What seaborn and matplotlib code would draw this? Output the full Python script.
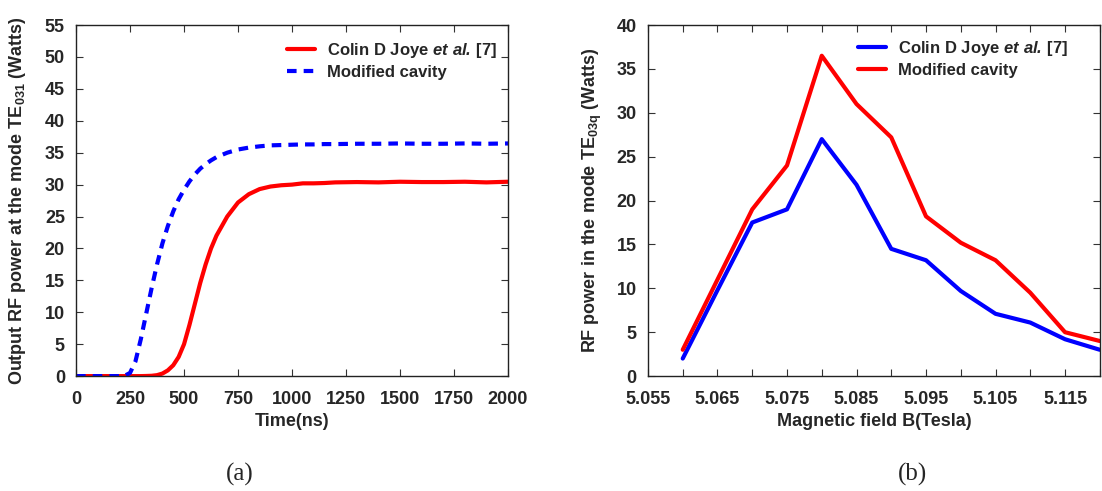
import numpy as np
import pandas as pd
import matplotlib
matplotlib.use("Agg")
import matplotlib.pyplot as plt
import seaborn as sns
from matplotlib.ticker import MultipleLocator, FixedLocator

# (a) time response
time_ns = [0, 100, 200, 225, 250, 275, 300, 325, 350, 375, 400, 425, 450, 475, 500,
           525, 550, 575, 600, 625, 650, 700, 750, 800, 850, 900, 950, 1000, 1050,
           1100, 1150, 1200, 1300, 1400, 1500, 1600, 1700, 1800, 1900, 2000]
joye_power_t = [0, 0, 0, 0, 0, 0, 0, 0.02, 0.05, 0.15, 0.4, 0.9, 1.7, 3.0, 5.0,
                8.0, 11.3, 14.6, 17.5, 20.0, 22.0, 25.0, 27.2, 28.5, 29.3, 29.7, 29.9, 30.0, 30.2,
                30.2, 30.25, 30.35, 30.4, 30.35, 30.45, 30.4, 30.4, 30.45, 30.35, 30.45]
modified_power_t = [0, 0, 0, 0.05, 0.5, 2.3, 5.8, 9.8, 13.8, 17.5, 20.8, 23.5, 25.8, 27.7, 29.2,
                    30.5, 31.6, 32.5, 33.2, 33.8, 34.3, 35.0, 35.5, 35.8, 36.0, 36.15, 36.2, 36.25, 36.3,
                    36.3, 36.35, 36.35, 36.4, 36.4, 36.45, 36.4, 36.4, 36.45, 36.4, 36.45]

# (b) magnetic field sweep
field_T = [5.060, 5.065, 5.070, 5.075, 5.080, 5.085, 5.090, 5.095, 5.100, 5.105, 5.110, 5.115, 5.120]
joye_power_b = [2.0, 9.8, 17.5, 19.0, 27.0, 21.8, 14.5, 13.2, 9.7, 7.1, 6.1, 4.2, 3.0]
modified_power_b = [3.0, 11.0, 19.0, 24.0, 36.5, 31.0, 27.2, 18.2, 15.2, 13.2, 9.5, 5.0, 4.0]

joye_label = r"Colin D Joye $\mathbfit{et\ al.}\,$[7]"
mod_label = "Modified cavity"

sns.set_theme(style="ticks")
plt.rcParams["font.family"] = ["Liberation Sans", "DejaVu Sans"]
plt.rcParams["font.weight"] = "bold"
plt.rcParams["mathtext.fontset"] = "custom"
plt.rcParams["mathtext.rm"] = "Liberation Sans:bold"
plt.rcParams["mathtext.bf"] = "Liberation Sans:bold"
plt.rcParams["mathtext.it"] = "Liberation Sans:italic:bold"
plt.rcParams["mathtext.bfit"] = "Liberation Sans:italic:bold"

fs = 13
lw = 3.0
fig = plt.figure(figsize=(11.02, 4.91), dpi=100)
ax1 = fig.add_axes([0.069, 0.234, 0.392, 0.715])
ax2 = fig.add_axes([0.588, 0.234, 0.410, 0.715])

df_t = pd.DataFrame({"t": time_ns, "joye": joye_power_t, "mod": modified_power_t})
sns.lineplot(data=df_t, x="t", y="joye", ax=ax1, color="#ff0000", lw=lw, label=joye_label)
sns.lineplot(data=df_t, x="t", y="mod", ax=ax1, color="#0000ff", lw=lw,
             linestyle=(0, (2.3, 1.7)), label=mod_label)
ax1.set_xlim(0, 2000)
ax1.set_ylim(0, 55)
ax1.xaxis.set_major_locator(MultipleLocator(250))
ax1.yaxis.set_major_locator(MultipleLocator(5))
ax1.set_xlabel("Time(ns)", fontsize=fs, fontweight="bold", labelpad=3)
ax1.set_ylabel(r"Output RF power at the mode TE$_{\mathrm{031}}$ (Watts)", fontsize=fs,
               fontweight="bold", labelpad=12)

df_b = pd.DataFrame({"B": field_T, "joye": joye_power_b, "mod": modified_power_b})
sns.lineplot(data=df_b, x="B", y="joye", ax=ax2, color="#0000ff", lw=lw, label=joye_label)
sns.lineplot(data=df_b, x="B", y="mod", ax=ax2, color="#ff0000", lw=lw, label=mod_label)
ax2.set_xlim(5.055, 5.12)
ax2.set_ylim(0, 40)
ticks_b = [5.055 + 0.005 * i for i in range(14)]
ax2.xaxis.set_major_locator(FixedLocator(ticks_b))
ax2.set_xticklabels([f"{v:.3f}" if i % 2 == 0 else "" for i, v in enumerate(ticks_b)])
ax2.yaxis.set_major_locator(MultipleLocator(5))
ax2.set_xlabel("Magnetic field B(Tesla)", fontsize=fs, fontweight="bold", labelpad=3)
ax2.set_ylabel(r"RF power in the mode TE$_{\mathrm{03q}}$ (Watts)", fontsize=fs,
               fontweight="bold", labelpad=9)

legend_anchor = {ax1: (0.488, 0.954), ax2: (0.465, 0.960)}
for ax in (ax1, ax2):
    ax.tick_params(direction="in", top=True, right=True, length=5, width=0.8,
                   labelsize=fs, color="#333333")
    ax.tick_params(axis="x", pad=11)
    ax.tick_params(axis="y", pad=8)
    for lab in ax.get_xticklabels() + ax.get_yticklabels():
        lab.set_fontweight("bold")
    for sp in ax.spines.values():
        sp.set_linewidth(1.0)
        sp.set_color("#222222")
    ax.legend(loc="upper left", bbox_to_anchor=legend_anchor[ax], frameon=False,
              fontsize=12, handlelength=1.7, handletextpad=0.7, labelspacing=0.3,
              borderaxespad=0, borderpad=0)

fig.text(0.218, 0.022, "(a)", fontsize=18, family="Liberation Serif",
         fontweight="normal", ha="center")
fig.text(0.828, 0.022, "(b)", fontsize=18, family="Liberation Serif",
         fontweight="normal", ha="center")

fig.savefig("out.png", dpi=100)
